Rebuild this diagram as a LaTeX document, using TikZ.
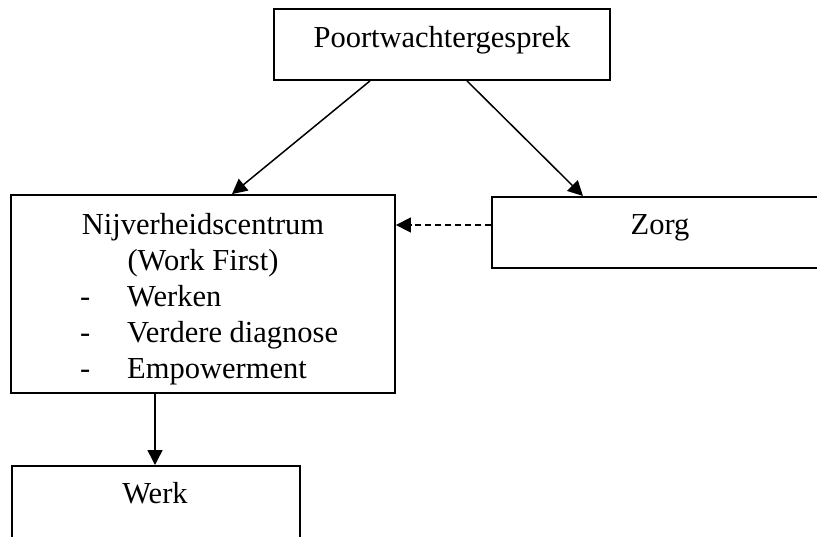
\documentclass[tikz,border=0pt]{standalone}
\usepackage{fontspec}
\setmainfont{Liberation Serif}
\usetikzlibrary{arrows.meta}
\begin{document}
\begin{tikzpicture}[x=1pt,y=-1pt,
  box/.style={draw, line width=1.8pt, rectangle, inner sep=0pt},
  txt/.style={inner sep=0pt, font=\fontsize{30.5}{36}\selectfont},
  flow/.style={line width=1.5pt, -{Triangle[length=15pt,width=15pt]}},
  back/.style={flow, dash pattern=on 6pt off 4pt}]
\useasboundingbox (0,0) rectangle (817,536);
\clip (0,0) rectangle (817,536);

% boxes
\node[box, minimum width=336pt, minimum height=71pt] (pw) at (442,44.5) {};
\node[box, minimum width=384pt, minimum height=198pt] (nc) at (203,294) {};
\node[box, minimum width=340pt, minimum height=71pt, anchor=north west] (zorg) at (491,196) {};
\node[box, minimum width=288pt, minimum height=100pt, anchor=north west] (werk) at (11,465) {};

% texts
\node[txt, anchor=base] (tpw) at (442,47) {Poortwachtergesprek};
\node[txt, anchor=base] (tzorg) at (660,234) {Zorg};
\node[txt, anchor=base] (twerk) at (155,503) {Werk};
\node[txt, anchor=base] (tnc1) at (203,234) {Nijverheidscentrum};
\node[txt, anchor=base] (tnc2) at (203,270) {(Work First)};
\node[txt, anchor=base west] (d1) at (80,306) {-};
\node[txt, anchor=base west] (d2) at (80,342) {-};
\node[txt, anchor=base west] (d3) at (80,378) {-};
\node[txt, anchor=base west] (i1) at (127,306) {Werken};
\node[txt, anchor=base west] (i2) at (127,342) {Verdere diagnose};
\node[txt, anchor=base west] (i3) at (127,378) {Empowerment};

% connectors
\draw[flow] (pw.south -| 370,0) -- (nc.north -| 232,0);
\draw[flow] (pw.south -| 467,0) -- (zorg.north -| 583,0);
\draw[back] (zorg.west |- 0,225) -- (nc.east |- 0,225);
\draw[flow] (nc.south -| 155,0) -- (werk.north -| 155,0);
\end{tikzpicture}
\end{document}
